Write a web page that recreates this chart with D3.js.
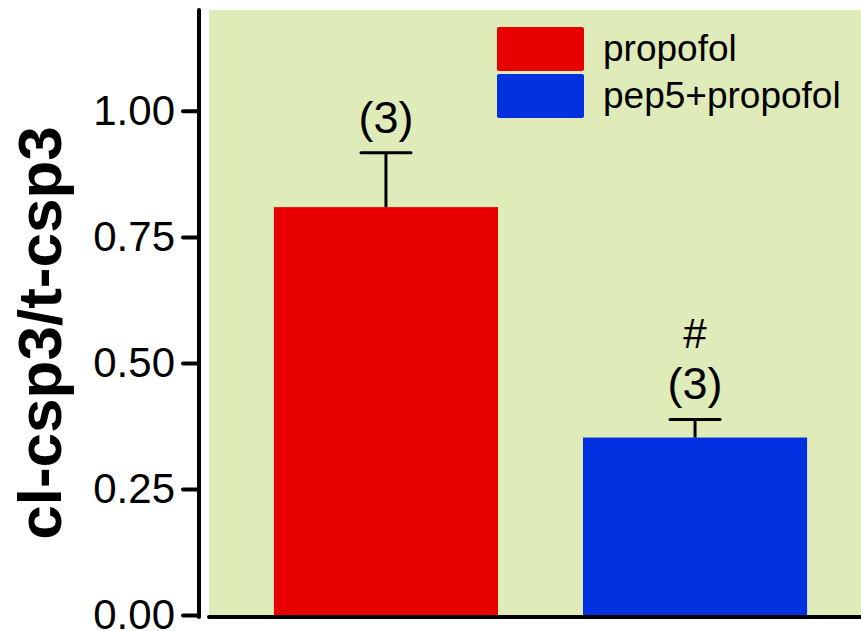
<!DOCTYPE html>
<html>
<head>
<meta charset="utf-8">
<script src="https://cdn.jsdelivr.net/npm/d3@7"></script>
<style>
    body { margin: 0; background: #fff; }
    text { font-family: "Liberation Sans", Arial, sans-serif; }
</style>
</head>
<body>
<div id="chart"></div>
<script>
// data
const groups = ["propofol", "pep5+propofol"];
const means = [0.809, 0.352];
const errors = [0.108, 0.036];
const nLabels = ["(3)", "(3)"];
const sigMarks = ["", "#"];
const colors = ["#e80000", "#0030e0"];
const yTicks = [0, 0.25, 0.5, 0.75, 1.0];

const W = 861, H = 631;
const margin = { top: 10, right: 0, bottom: 16, left: 209 };
const width = W - margin.left - margin.right;
const height = H - margin.top - margin.bottom;

const svg = d3.select("#chart").append("svg")
    .attr("width", W)
    .attr("height", H);

const g = svg.append("g")
    .attr("transform", `translate(${margin.left}, ${margin.top})`);

const y = d3.scaleLinear()
    .domain([0, 1.2])
    .range([height, 0]);

// plot area is cut off on the right, so the band range runs past the edge
const x = d3.scaleBand()
    .domain(groups)
    .range([0, 663])
    .paddingInner(0.275)
    .paddingOuter(0.21);

// plot background
g.append("rect")
    .attr("width", width)
    .attr("height", height)
    .attr("fill", "#dfebb8");

// bars
g.selectAll(".bar")
    .data(groups)
    .enter().append("rect")
    .attr("class", "bar")
    .attr("x", d => x(d))
    .attr("y", (d, i) => y(means[i]))
    .attr("width", x.bandwidth())
    .attr("height", (d, i) => y(0) - y(means[i]))
    .attr("fill", (d, i) => colors[i]);

// error bars (upper only)
const capW = 50;
groups.forEach((d, i) => {
    const cx = x(d) + x.bandwidth() / 2;
    const top = y(means[i] + errors[i]);
    g.append("line")
        .attr("x1", cx).attr("x2", cx)
        .attr("y1", y(means[i])).attr("y2", top)
        .attr("stroke", "#000").attr("stroke-width", 3);
    g.append("line")
        .attr("x1", cx - capW / 2).attr("x2", cx + capW / 2)
        .attr("y1", top).attr("y2", top)
        .attr("stroke", "#000").attr("stroke-width", 3)
        .attr("stroke-linecap", "round");

    g.append("text")
        .attr("x", cx)
        .attr("y", top - 20)
        .attr("text-anchor", "middle")
        .style("font-size", "45px")
        .text(nLabels[i]);

    if (sigMarks[i]) {
        g.append("text")
            .attr("x", cx)
            .attr("y", top - 71)
            .attr("text-anchor", "middle")
            .style("font-size", "42px")
            .text(sigMarks[i]);
    }
});

// y axis
const yAxis = d3.axisLeft(y)
    .tickValues(yTicks)
    .tickFormat(d3.format(".2f"))
    .tickSize(16)
    .tickPadding(8);

const yAxisG = svg.append("g")
    .attr("transform", `translate(199, ${margin.top})`)
    .call(yAxis);
yAxisG.select(".domain").remove();
yAxisG.append("line")
    .attr("x1", 0).attr("x2", 0)
    .attr("y1", 0).attr("y2", height + 2)
    .attr("stroke", "#000").attr("stroke-width", 4)
    .attr("stroke-linecap", "round");
yAxisG.selectAll(".tick line")
    .attr("stroke", "#000").attr("stroke-width", 4)
    .attr("stroke-linecap", "round");
yAxisG.selectAll(".tick text")
    .attr("fill", "#000")
    .style("font-family", "'Liberation Sans', Arial, sans-serif")
    .style("font-size", "42px");

// x axis line
svg.append("line")
    .attr("x1", margin.left).attr("x2", W)
    .attr("y1", margin.top + height + 2).attr("y2", margin.top + height + 2)
    .attr("stroke", "#000").attr("stroke-width", 4)
    .attr("stroke-linecap", "round");

// y axis title
svg.append("text")
    .attr("transform", "translate(61, 333) rotate(-90)")
    .attr("text-anchor", "middle")
    .style("font-size", "62px")
    .style("font-weight", "bold")
    .text("cl-csp3/t-csp3");

// legend
const legend = svg.append("g")
    .attr("transform", "translate(497, 27)");
groups.forEach((d, i) => {
    legend.append("rect")
        .attr("x", 0)
        .attr("y", i * 47)
        .attr("width", 87)
        .attr("height", 44)
        .attr("rx", 2)
        .attr("fill", colors[i]);
    legend.append("text")
        .attr("x", 106)
        .attr("y", i * 47 + 34)
        .style("font-size", "37px")
        .text(d);
});
</script>
</body>
</html>
